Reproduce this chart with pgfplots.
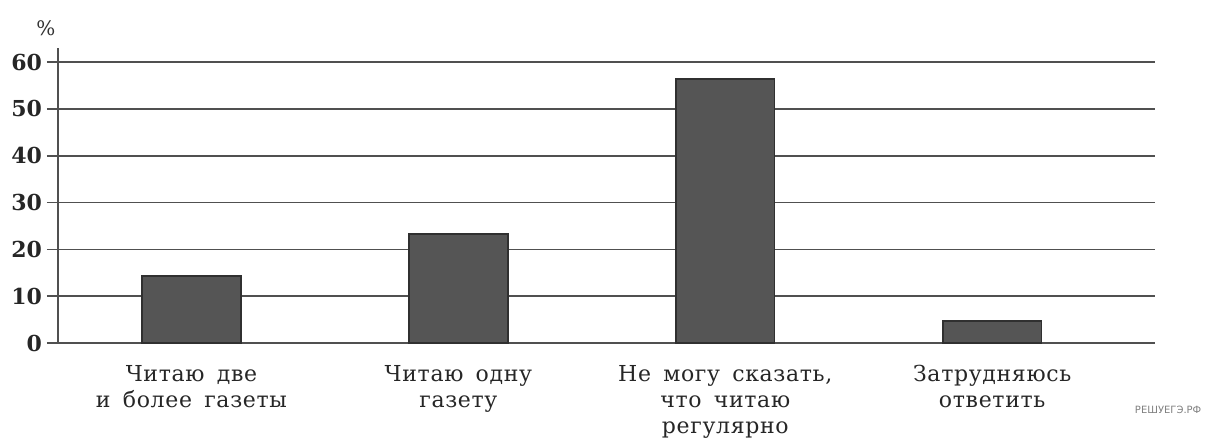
\documentclass[border=0pt]{standalone}
\usepackage{fontspec}
\setmainfont{DejaVu Serif}
\newfontfamily\lblfont[LetterSpace=3,WordSpace=1.6]{DejaVu Serif}
\newfontfamily\wmfont{DejaVu Sans}
\usepackage{pgfplots}
\pgfplotsset{compat=1.18}
\definecolor{gridc}{HTML}{505050}
\definecolor{barc}{HTML}{555555}
\definecolor{bard}{HTML}{303030}
\begin{document}
\begin{tikzpicture}
\useasboundingbox (0,0) rectangle (604.5pt,219pt);
\begin{axis}[
  at={(29pt,47.5pt)}, anchor=south west,
  scale only axis, width=548.5pt, height=147.5pt,
  xmin=-0.5, xmax=3.61, ymin=0, ymax=63,
  axis x line=bottom, axis y line=left,
  axis line style={-, gridc, line width=0.8pt},
  ytick={0,10,...,60},
  ymajorgrids, grid style={gridc, line width=0.8pt},
  tick align=outside,
  major tick length=5.5pt,
  tick style={gridc, line width=0.8pt},
  /pgf/number format/assume math mode=true,
  yticklabel style={font=\bfseries\fontsize{11}{12}\selectfont, text=black!85, xshift=1pt},
  xtick={0,1,2,3},
  x tick style={draw=none},
  xticklabels={{Читаю две\\и более газеты},{Читаю одну\\газету},{Не могу сказать,\\что читаю\\регулярно},{Затрудняюсь\\ответить}},
  xticklabel style={align=center, font=\lblfont\fontsize{11}{13}\selectfont, text=black!85, yshift=-2pt},
  extra x ticks={0.5,1.5,2.5},
  extra x tick labels={},
  extra x tick style={major tick length=6pt, tick style={draw=gridc, line width=0.8pt}},
  clip=false,
]
\addplot[ybar, bar width=0.37, fill=barc, draw=bard, line width=0.8pt] coordinates {(0,14.3) (1,23.3) (2,56.4) (3,4.7)};
\node[font=\fontsize{10}{12}\selectfont, text=black!80] at (axis description cs:-0.011,1.068) {\%};
\node[font=\wmfont\fontsize{5}{6}\selectfont, text=black!50] at (axis description cs:1.012,-0.227) {РЕШУЕГЭ.РФ};
\end{axis}
\end{tikzpicture}
\end{document}
